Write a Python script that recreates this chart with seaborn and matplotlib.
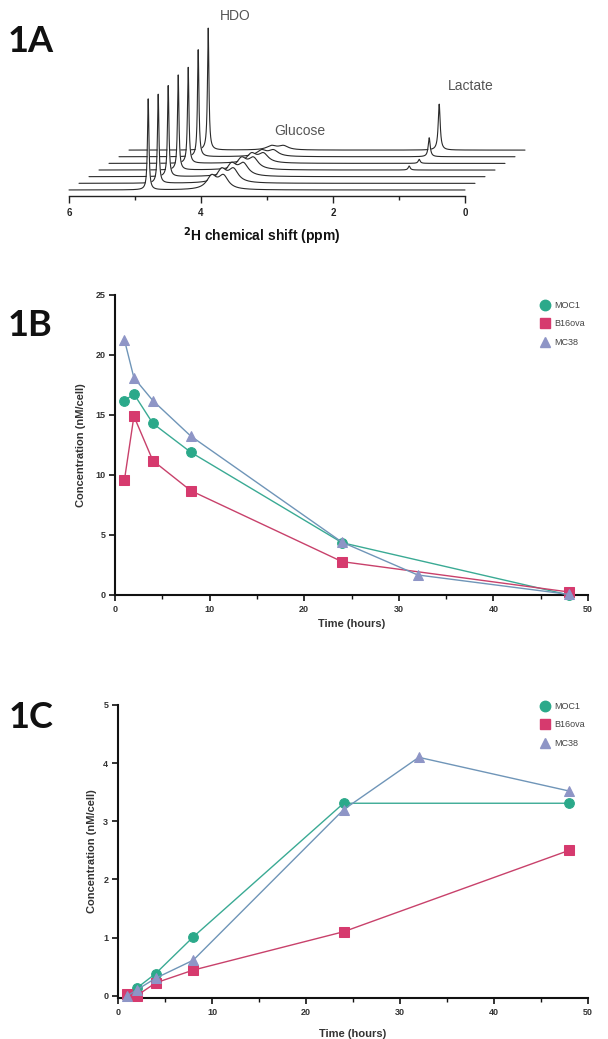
import numpy as np
import matplotlib
matplotlib.use("Agg")
import matplotlib.pyplot as plt
from matplotlib.lines import Line2D
import seaborn as sns

# ---- panel 1A : stacked 2H spectra (bottom trace first) ----
PPM_HDO = 4.80
PPM_GLC = [3.66, 3.84]
PPM_LAC = 1.30
HDO_HEIGHT = [91, 89, 91, 95, 96, 107, 122]
GLC_HEIGHT = [13, 13, 12, 11, 9, 6, 4]
LAC_HEIGHT = [0, 0, 0, 4, 4, 19, 46]

# ---- panel 1B : concentration after injection ----
T_SHORT = [1, 2, 4, 8, 24, 48]
T_LONG = [1, 2, 4, 8, 24, 32, 48]
MOC1_B = [16.2, 16.75, 14.3, 11.9, 4.36, 0.0]
B16_B = [9.6, 14.9, 11.2, 8.7, 2.78, 0.25]
MC38_B = [21.25, 18.1, 16.2, 13.25, 4.4, 1.67, 0.05]

# ---- panel 1C ----
MOC1_C = [0.0, 0.13, 0.38, 1.01, 3.31, 3.31]
B16_C = [0.03, 0.0, 0.22, 0.44, 1.10, 2.50]
MC38_C = [0.0, 0.1, 0.3, 0.61, 3.2, 4.10, 3.52]

NAMES = ["MOC1", "B16ova", "MC38"]
MARK = {"MOC1": "o", "B16ova": "s", "MC38": "^"}
FACE = {"MOC1": "#2ba98a", "B16ova": "#d63a6e", "MC38": "#8e95c6"}
LINE = {"MOC1": "#3aaa94", "B16ova": "#c8416b", "MC38": "#6f95b8"}

sns.set_theme(style="white")
plt.rcParams["font.family"] = ["Liberation Sans", "DejaVu Sans"]

W, H = 608, 1039
fig = plt.figure(figsize=(W / 100, H / 100), dpi=100)


def fx(px):
    return px / W


def fy(py):
    return 1 - py / H


def lorentz(x, x0, h, w):
    return h * w ** 2 / ((x - x0) ** 2 + w ** 2)


# ------------------------------------------------------------------
# 1A
# ------------------------------------------------------------------
ax_a = fig.add_axes([fx(69), fy(196), (465 - 69) / W, (196 - 10) / H])
ax_a.set_xlim(6, 0)
ax_a.set_ylim(0, 186)
ppm = np.linspace(6, 0, 4000)
dx = 10 / 66.0   # shift of each trace in ppm (pseudo 3d)
dy = 6.65
for k in range(len(HDO_HEIGHT) - 1, -1, -1):
    spec = lorentz(ppm, PPM_HDO, HDO_HEIGHT[k], 0.013)
    for p in PPM_GLC:
        spec = spec + lorentz(ppm, p, GLC_HEIGHT[k], 0.09)
    spec = spec + lorentz(ppm, PPM_LAC, LAC_HEIGHT[k], 0.018)
    base = 6 + dy * k
    xs = ppm - dx * k
    ax_a.fill_between(xs, base, base + spec, color="white", lw=0,
                      zorder=20 - 2 * k, clip_on=False)
    ax_a.plot(xs, base + spec, color="#2a2a2a", lw=0.8,
              zorder=21 - 2 * k, clip_on=False)

for s in ["left", "top", "right"]:
    ax_a.spines[s].set_visible(False)
ax_a.spines["bottom"].set_color("#222222")
ax_a.spines["bottom"].set_linewidth(1.0)
ax_a.set_xticks([6, 4, 2, 0])
ax_a.set_xticklabels(["6", "4", "2", "0"])
ax_a.set_xticks([5, 3, 1], minor=True)
ax_a.set_yticks([])
ax_a.tick_params(axis="x", which="major", direction="out", length=5, width=1,
                 labelsize=7, pad=4, colors="#222222", bottom=True)
ax_a.tick_params(axis="x", which="minor", direction="out", length=3, width=1,
                 colors="#222222", bottom=True)
for t in ax_a.get_xticklabels():
    t.set_fontweight("bold")
ax_a.patch.set_alpha(0)

fig.text(fx(262), fy(236), r"$\mathbf{^2}$H chemical shift (ppm)", ha="center",
         va="center", fontsize=10, fontweight="bold", color="#111111")
fig.text(fx(235), fy(16), "HDO", ha="center", va="center", fontsize=10, color="#555555")
fig.text(fx(300), fy(131), "Glucose", ha="center", va="center", fontsize=10, color="#555555")
fig.text(fx(471), fy(86), "Lactate", ha="center", va="center", fontsize=10, color="#555555")


# ------------------------------------------------------------------
# 1B and 1C
# ------------------------------------------------------------------
def conc_panel(ax, data, ylim, yticks, ylab_x, xlab_y):
    for name, (t, v) in data.items():
        sns.lineplot(x=t, y=v, ax=ax, color=LINE[name], lw=1.0,
                     marker=MARK[name], markersize=7,
                     markerfacecolor=FACE[name], markeredgecolor=FACE[name],
                     clip_on=False, zorder=5)
    ax.set_xlim(0, 50)
    ax.set_ylim(*ylim)
    ax.set_xticks([0, 10, 20, 30, 40, 50])
    ax.set_xticks([5, 15, 25, 35, 45], minor=True)
    ax.set_yticks(yticks)
    for s in ["top", "right"]:
        ax.spines[s].set_visible(False)
    for s in ["left", "bottom"]:
        ax.spines[s].set_color("#111111")
        ax.spines[s].set_linewidth(1.5)
    ax.tick_params(which="major", direction="out", length=4, width=1.2,
                   labelsize=6.5, colors="#111111", labelcolor="#333333",
                   bottom=True, left=True, pad=3)
    ax.tick_params(which="minor", direction="out", length=3, width=1.0,
                   colors="#111111", bottom=True)
    for t in ax.get_xticklabels() + ax.get_yticklabels():
        t.set_fontweight("bold")
    ax.set_xlabel("Time (hours)", fontsize=8, fontweight="bold", color="#333333")
    ax.set_ylabel("Concentration (nM/cell)", fontsize=8, fontweight="bold",
                  color="#333333")
    ax.xaxis.set_label_coords(0.5, xlab_y)
    ax.yaxis.set_label_coords(ylab_x, 0.5)
    ax.grid(False)


ax_b = fig.add_axes([fx(115), fy(595), (588 - 115) / W, 300 / H])
conc_panel(ax_b, {"MOC1": (T_SHORT, MOC1_B), "B16ova": (T_SHORT, B16_B),
                  "MC38": (T_LONG, MC38_B)},
           (0, 25), [0, 5, 10, 15, 20, 25], -0.062, -0.08)

ax_c = fig.add_axes([fx(118), fy(998), (588 - 118) / W, 293 / H])
conc_panel(ax_c, {"MOC1": (T_SHORT, MOC1_C), "B16ova": (T_SHORT, B16_C),
                  "MC38": (T_LONG, MC38_C)},
           (-0.04, 5), [0, 1, 2, 3, 4, 5], -0.045, -0.105)

handles = [Line2D([], [], ls="none", marker=MARK[n], markersize=7.5,
                  markerfacecolor=FACE[n], markeredgecolor=FACE[n]) for n in NAMES]
for ax, ytop in [(ax_b, 301), (ax_c, 702)]:
    leg = ax.legend(handles, NAMES, loc="upper left",
                    bbox_to_anchor=(fx(540), fy(ytop)), bbox_transform=fig.transFigure,
                    frameon=False, fontsize=6.5, handlelength=1.0, handletextpad=0.6,
                    labelspacing=1.05, borderpad=0, borderaxespad=0)
    for t in leg.get_texts():
        t.set_color("#444444")

for label, (x, y) in {"1A": (31, 42), "1B": (30, 325), "1C": (31, 718)}.items():
    fig.text(fx(x), fy(y), label, ha="center", va="center", fontsize=26,
             fontweight="bold", family=["Lato", "DejaVu Sans"], color="#111111")

fig.savefig("out.png", dpi=100)
